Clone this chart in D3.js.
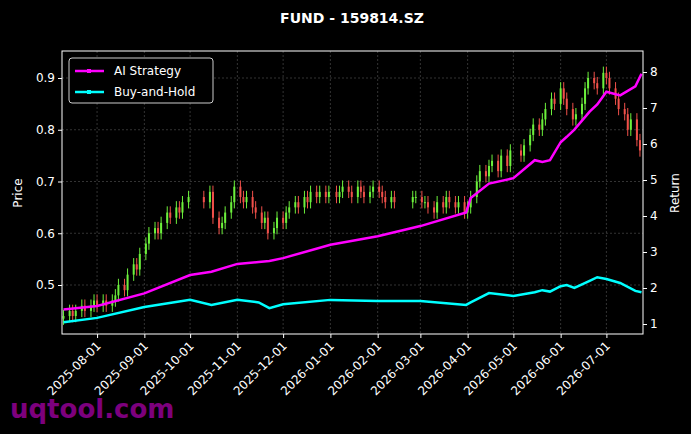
<!DOCTYPE html><html><head><meta charset="utf-8">
<script src="https://cdn.jsdelivr.net/npm/d3@7"></script>
<style>body{margin:0;background:#000}</style></head><body><svg id="c" width="691" height="434"></svg>
<script>
const closes=[0.44,0.45,0.44,0.45,0.46,0.45,0.46,0.47,0.46,
0.47,0.46,0.47,0.48,0.50,0.49,0.52,0.54,0.53,0.56,0.58,
0.60,0.61,0.60,0.62,0.64,0.63,0.65,0.64,0.66,0.67,0.66,
0.68,0.63,0.61,0.62,0.64,0.66,0.69,0.67,
0.66,0.67,0.65,0.64,0.62,0.63,0.60,0.61,0.63,0.62,
0.64,0.65,0.66,0.65,0.67,0.66,0.68,0.67,0.68,0.67,0.68,
0.67,0.68,0.69,0.68,0.67,0.69,0.68,0.67,0.68,0.69,0.68,
0.67,0.66,0.67,0.66,0.67,
0.67,0.66,
0.66,0.65,0.64,0.66,0.65,0.67,0.66,0.65,0.66,0.64,0.65,
0.67,0.70,0.72,0.71,0.73,0.74,0.72,0.75,0.73,0.76,0.75,
0.77,0.79,0.81,0.80,0.82,0.84,0.86,0.85,0.88,0.86,
0.84,0.82,0.83,0.85,0.88,0.90,0.89,0.88,0.91,0.90,0.88,
0.86,0.84,0.83,0.80,0.82,0.78,0.76,0.72,0.74];
const holidays=["2025-10-01","2025-10-02","2025-10-03","2025-10-06","2025-10-07","2025-10-08","2026-01-01","2026-02-16","2026-02-17","2026-02-18","2026-02-19","2026-02-20","2026-02-23","2026-05-01","2026-05-04","2026-05-05"];
const lineDates=["2025-07-10","2025-08-01","2025-09-01","2025-10-01","2025-10-15","2025-11-01","2025-11-15","2025-11-22","2025-12-01","2026-01-01","2026-02-01","2026-03-01","2026-03-31","2026-04-03","2026-04-15","2026-05-01","2026-05-15","2026-05-20","2026-05-25","2026-06-01","2026-06-05","2026-06-10","2026-06-20","2026-06-25","2026-07-01","2026-07-10","2026-07-20","2026-07-24"];
const aiRet=[1.4,1.5,1.85,2.36,2.45,2.67,2.72,2.75,2.83,3.2,3.44,3.72,4.1,4.5,4.9,5.05,5.55,5.5,5.55,6.05,6.2,6.4,6.9,7.1,7.45,7.35,7.6,7.95];
const bhRet=[1.05,1.17,1.47,1.67,1.53,1.67,1.6,1.44,1.55,1.67,1.64,1.64,1.53,1.6,1.86,1.78,1.88,1.94,1.9,2.05,2.08,2.0,2.2,2.3,2.25,2.14,1.92,1.88];
const priceTicks=[0.5,0.6,0.7,0.8,0.9];
const retTicks=[1,2,3,4,5,6,7,8];
const dateTicks=["2025-08-01","2025-09-01","2025-10-01","2025-11-01","2025-12-01","2026-01-01","2026-02-01","2026-03-01","2026-04-01","2026-05-01","2026-06-01","2026-07-01"];

const P=d3.timeParse("%Y-%m-%d"),F=d3.timeFormat("%Y-%m-%d");
const svg=d3.select("#c");
svg.append("rect").attr("width",691).attr("height",434).attr("fill","#000");
const L=62,R=643,T=51,B=334;
const x=d3.scaleTime().domain([P("2025-07-09"),P("2026-07-25")]).range([L,R]);
const y=d3.scaleLinear().domain([0.9-(78-T)/517.5,0.9+(B-78)/517.5*0]).range([T,B]);
y.domain([0.9+(78-T)/517.5,0.9-(B-78)/517.5]);
const y2=d3.scaleLinear().domain([8+(72-T)/36,8-(B-72)/36]).range([T,B]);
// trading days
let days=[],d=P("2025-07-10");const hs=new Set(holidays);
while(d<=P("2026-07-24")){const w=d.getDay();if(w>0&&w<6&&!hs.has(F(d)))days.push(new Date(d));d=d3.timeDay.offset(d,1);}
const cd=days.filter((_,i)=>i%2==0);
const n=Math.min(cd.length,closes.length);
const g=svg.append("g");
// grid
g.selectAll(".gx").data(dateTicks).join("line").attr("x1",s=>x(P(s))).attr("x2",s=>x(P(s))).attr("y1",T).attr("y2",B).attr("stroke","#555").attr("stroke-width",0.6).attr("stroke-dasharray","2,2");
g.selectAll(".gy").data(priceTicks).join("line").attr("x1",L).attr("x2",R).attr("y1",v=>y(v)).attr("y2",v=>y(v)).attr("stroke","#555").attr("stroke-width",0.6).attr("stroke-dasharray","2,2");
// candles
for(let i=0;i<n;i++){const c=closes[i],o=i?closes[i-1]:c-0.005;const up=c>=o;const col=up?"#6cf03c":"#f0504a";
 const hi=Math.max(o,c)+0.012,lo=Math.min(o,c)-0.012,xx=x(cd[i]);
 g.append("line").attr("x1",xx).attr("x2",xx).attr("y1",y(hi)).attr("y2",y(lo)).attr("stroke",col).attr("stroke-width",1);
 g.append("rect").attr("x",xx-1).attr("width",2).attr("y",y(Math.max(o,c))).attr("height",Math.max(1,Math.abs(y(o)-y(c)))).attr("fill",col);}
const ln=d3.line().x((v,i)=>x(P(lineDates[i]))).y(v=>y2(v));
g.append("path").attr("d",ln(aiRet)).attr("fill","none").attr("stroke","#ff00ff").attr("stroke-width",2.5);
g.append("path").attr("d",ln(bhRet)).attr("fill","none").attr("stroke","#00ffff").attr("stroke-width",2.5);
svg.append("rect").attr("x",L).attr("y",T).attr("width",R-L).attr("height",B-T).attr("fill","none").attr("stroke","#fff").attr("stroke-width",1);
const ax=svg.append("g").attr("transform",`translate(0,${B})`).call(d3.axisBottom(x).tickValues(dateTicks.map(P)).tickFormat(F).tickSize(4));
ax.selectAll("text").attr("transform","rotate(-45)").attr("text-anchor","end").attr("dx","-0.5em").attr("dy","0.4em");
const al=svg.append("g").attr("transform",`translate(${L},0)`).call(d3.axisLeft(y).tickValues(priceTicks).tickFormat(d3.format(".1f")).tickSize(4));
const ar=svg.append("g").attr("transform",`translate(${R},0)`).call(d3.axisRight(y2).tickValues(retTicks).tickSize(4));
[ax,al,ar].forEach(a=>{a.select(".domain").remove();a.selectAll("line").attr("stroke","#fff");a.selectAll("text").attr("fill","#fff").style("font-family","DejaVu Sans").style("font-size","12px");});
svg.append("text").attr("x",352).attr("y",23).attr("text-anchor","middle").attr("fill","#fff").style("font-family","DejaVu Sans").style("font-weight","bold").style("font-size","14px").text("FUND - 159814.SZ");
svg.append("text").attr("transform","translate(22,193) rotate(-90)").attr("text-anchor","middle").attr("fill","#fff").style("font-family","DejaVu Sans").style("font-size","12px").text("Price");
svg.append("text").attr("transform","translate(679,193) rotate(-90)").attr("text-anchor","middle").attr("fill","#fff").style("font-family","DejaVu Sans").style("font-size","12px").text("Return");
const lg=svg.append("g");
lg.append("rect").attr("x",69).attr("y",58).attr("width",144).attr("height",45).attr("rx",3).attr("fill","#000").attr("stroke","#ccc");
[["AI Strategy","#ff00ff",71],["Buy-and-Hold","#00ffff",92]].forEach(([t,c,yy])=>{
 lg.append("line").attr("x1",75).attr("x2",104).attr("y1",yy).attr("y2",yy).attr("stroke",c).attr("stroke-width",2.5);
 lg.append("rect").attr("x",87).attr("y",yy-2).attr("width",4).attr("height",4).attr("fill",c);
 lg.append("text").attr("x",114).attr("y",yy+4).attr("fill","#fff").style("font-family","DejaVu Sans").style("font-size","12px").text(t);});
svg.append("text").attr("x",10).attr("y",418).attr("fill","#8b008b").attr("opacity",0.9).style("font-family","DejaVu Sans").style("font-weight","bold").style("font-size","26px").text("uqtool.com");
</script></body></html>
